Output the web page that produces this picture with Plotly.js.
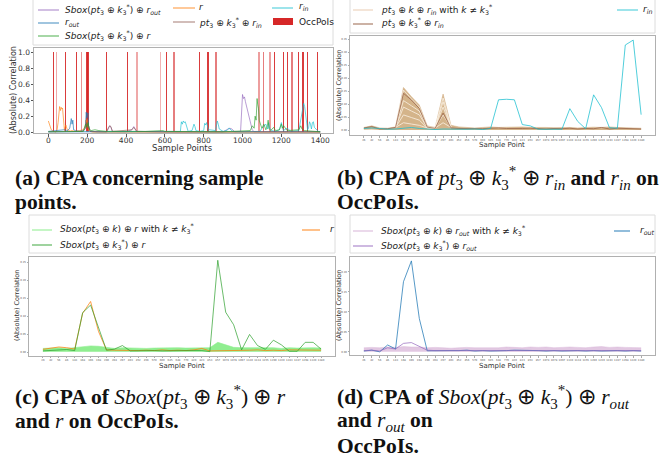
<!DOCTYPE html>
<html><head><meta charset="utf-8">
<script src="https://cdn.plot.ly/plotly-3.0.1.min.js"></script>
<style>html,body{margin:0;padding:0;background:#fff}#c{width:672px;height:465px}</style>
</head><body><div id="c"></div>
<script>
// ---------- DATA ----------
// (a) CPA over all sample points (sparse readings)
const aR_x = [0,3,6,10,15,20,25,30,35,40,45,50,55,58,60,63,66,70,73,76,80,83,86,90,95,100,105,110,120,140,160,180,190,193,196,199,202,205,208,215,230,260,1400];
const aR_y = [0.14,0.12,0.08,0.05,0.03,0.02,0.02,0.01,0.0,0.01,0.03,0.12,0.28,0.32,0.3,0.27,0.31,0.29,0.3,0.2,0.05,0.02,0.06,0.09,0.05,0.02,0.03,0.01,0.02,0.01,0.02,0.03,0.08,0.15,0.12,0.16,0.1,0.04,0.02,0.01,0.0,0.0,0.0];
const aRout_x = [0,50,80,100,110,118,122,126,130,140,160,180,190,195,198,201,204,207,210,215,225,250,1400];
const aRout_y = [0.01,0.02,0.03,0.02,0.05,0.17,0.1,0.15,0.03,0.02,0.01,0.02,0.05,0.25,0.18,0.22,0.24,0.08,0.03,0.01,0.01,0.005,0.005];
const aSboxR_x = [0,100,180,192,198,204,210,220,240,260,300,500,590,600,900,1040,1050,1060,1065,1070,1075,1078,1082,1086,1090,1095,1100,1110,1120,1128,1132,1136,1145,1160,1170,1190,1200,1205,1212,1230,1290,1300,1306,1320,1400];
const aSboxR_y = [0.005,0.005,0.01,0.1,0.06,0.12,0.04,0.02,0.03,0.02,0.01,0.01,0.02,0.01,0.005,0.02,0.08,0.05,0.2,0.15,0.42,0.35,0.3,0.15,0.1,0.08,0.05,0.1,0.03,0.08,0.15,0.05,0.02,0.06,0.02,0.03,0.1,0.05,0.08,0.02,0.03,0.08,0.04,0.02,0.005];
const aSboxRout_x = [0,300,310,316,322,330,400,430,440,446,455,600,900,925,935,945,960,990,995,1000,1005,1010,1015,1020,1025,1030,1035,1040,1050,1060,1400];
const aSboxRout_y = [0.005,0.005,0.05,0.08,0.06,0.01,0.005,0.03,0.07,0.05,0.01,0.005,0.005,0.04,0.05,0.04,0.005,0.01,0.3,0.47,0.42,0.44,0.38,0.33,0.28,0.2,0.15,0.1,0.03,0.005,0.005];
const aPtRin_x = [0,180,190,196,200,205,215,300,310,316,322,330,430,440,446,455,600,1400];
const aPtRin_y = [0.005,0.01,0.05,0.12,0.08,0.1,0.01,0.005,0.06,0.08,0.07,0.01,0.03,0.06,0.04,0.01,0.005,0.005];
const aRin_x = [0,650,680,685,690,695,700,705,710,715,720,740,750,755,760,780,800,805,810,815,820,825,830,860,865,870,875,880,900,920,930,940,950,990,1090,1100,1120,1130,1135,1140,1150,1170,1190,1200,1205,1210,1230,1250,1290,1300,1310,1315,1320,1325,1330,1335,1340,1345,1350,1355,1360,1365,1370,1380,1390,1400];
const aRin_y = [0.005,0.005,0.01,0.13,0.1,0.14,0.12,0.13,0.08,0.03,0.01,0.02,0.1,0.07,0.02,0.01,0.02,0.11,0.09,0.12,0.06,0.02,0.03,0.02,0.07,0.14,0.1,0.04,0.01,0.02,0.05,0.03,0.01,0.005,0.01,0.05,0.1,0.04,0.12,0.05,0.02,0.01,0.03,0.12,0.08,0.02,0.05,0.01,0.02,0.15,0.3,0.36,0.32,0.2,0.08,0.03,0.05,0.13,0.1,0.04,0.12,0.13,0.06,0.03,0.01,0.005];
const occPoIs = [26,43,86,144,170,198,204,298,406,456,578,607,648,777,824,862,1084,1109,1140,1164,1209,1230,1256,1290,1311,1333,1388];
const occHeight = [1,1,1,1,1,1,1,1,1,1,1,1,1,1,1,1,1,1,1,1,1,1,1,1,1,1,1];

// OccPoI categories used in (b)-(d)
const poiLabels = ['26','42','56','86','143','168','196','198','200','204','297','403','452','456','570','600','645','648','770','820','823','853','857','1074','1078','1097','1130','1134','1155','1200','1220','1243','1247','1298','1320','1380'];

// (b)
const bWrongLow  = [0.003,0.004,0.002,0.002,0.003,0.004,0.004,0.004,0.003,0.003,0.004,0.003,0.002,0.002,0.002,0.002,0.003,0.003,0.002,0.002,0.003,0.002,0.002,0.002,0.002,0.002,0.003,0.002,0.002,0.002,0.003,0.002,0.002,0.002,0.002,0.002];
const bWrongHigh = [0.012,0.018,0.01,0.009,0.014,0.165,0.13,0.098,0.018,0.012,0.14,0.02,0.014,0.012,0.01,0.012,0.014,0.012,0.013,0.012,0.014,0.012,0.013,0.012,0.011,0.012,0.012,0.01,0.012,0.013,0.012,0.014,0.012,0.012,0.01,0.009];
const bStripeLabels = ['143','168','196','198','200','204','297','403'];
const bStripe1 = [0.012,0.03,0.025,0.02,0.01,0.01,0.03,0.012];
const bStripe2 = [0.012,0.06,0.05,0.04,0.01,0.01,0.06,0.012];
const bStripe3 = [0.012,0.09,0.075,0.06,0.012,0.012,0.09,0.012];
const bStripe4 = [0.012,0.115,0.095,0.075,0.012,0.012,0.11,0.012];
const bStripe5 = [0.012,0.155,0.122,0.09,0.014,0.012,0.125,0.014];
const bPtRin = [0.01,0.015,0.006,0.007,0.012,0.143,0.117,0.085,0.013,0.009,0.067,0.01,0.008,0.007,0.006,0.007,0.009,0.01,0.008,0.007,0.008,0.009,0.007,0.006,0.008,0.007,0.009,0.006,0.008,0.007,0.012,0.006,0.009,0.008,0.007,0.006];
const bRin = [0.008,0.01,0.008,0.005,0.006,0.01,0.012,0.008,0.005,0.004,0.006,0.005,0.004,0.005,0.006,0.004,0.008,0.118,0.12,0.118,0.023,0.018,0.005,0.005,0.007,0.005,0.084,0.035,0.007,0.137,0.088,0.011,0.009,0.328,0.347,0.061];

// (c)
const cWrongLow  = [0.001,0.001,0.001,0.001,0.001,0.001,0.001,0.001,0.001,0.001,0.001,0.001,0.001,0.001,0.001,0.001,0.001,0.001,0.001,0.001,0.001,0.001,0.001,0.001,0.001,0.001,0.001,0.001,0.001,0.001,0.001,0.001,0.001,0.001,0.001,0.001];
const cWrongHigh = [0.01,0.012,0.012,0.01,0.012,0.015,0.017,0.016,0.012,0.01,0.012,0.011,0.012,0.01,0.011,0.012,0.011,0.012,0.011,0.012,0.012,0.012,0.027,0.02,0.013,0.012,0.012,0.013,0.011,0.012,0.01,0.012,0.011,0.012,0.012,0.011];
const cR = [0.0075,0.01,0.014,0.012,0.008,0.108,0.141,0.057,0.006,0.005,0.004,0.005,0.004,0.005,0.004,0.006,0.004,0.005,0.004,0.006,0.01,0.003,0.003,0.004,0.005,0.004,0.005,0.006,0.004,0.005,0.004,0.006,0.006,0.005,0.005,0.005];
const cSboxR = [0.003,0.004,0.007,0.007,0.004,0.11,0.131,0.066,0.005,0.008,0.018,0.003,0.004,0.005,0.004,0.003,0.004,0.005,0.004,0.004,0.004,0.001,0.256,0.111,0.076,0.006,0.049,0.018,0.0075,0.033,0.02,0.002,0.002,0.027,0.027,0.008];

// (d)
const dWrongLow  = [0,0,0,0,0,0,0,0,0,0,0,0,0,0,0,0,0,0,0,0,0,0,0,0,0,0,0,0,0,0,0,0,0,0,0,0];
const dWrongHigh = [0.01,0.011,0.01,0.012,0.011,0.013,0.012,0.012,0.01,0.011,0.01,0.009,0.01,0.011,0.01,0.01,0.011,0.01,0.012,0.011,0.01,0.012,0.011,0.012,0.01,0.011,0.012,0.011,0.01,0.012,0.013,0.011,0.012,0.011,0.01,0.01];
const dRout = [0.002,0.004,0.0,0.017,0.007,0.175,0.227,0.083,0.0025,0.003,0.004,0.003,0.003,0.004,0.002,0.003,0.002,0.002,0.003,0.004,0.004,0.003,0.003,0.002,0.003,0.002,0.003,0.003,0.002,0.003,0.002,0.003,0.003,0.002,0.003,0.002];
const dSboxRout = [0.003,0.004,0.002,0.01,0.007,0.021,0.023,0.0125,0.004,0.003,0.003,0.004,0.003,0.003,0.004,0.003,0.003,0.004,0.003,0.004,0.003,0.004,0.003,0.003,0.004,0.003,0.004,0.003,0.003,0.004,0.003,0.004,0.003,0.004,0.003,0.003];

// ---------- STYLE ----------
const W = 672, H = 465;
const px = x => x / W, py = y => 1 - y / H;
const occAlpha = [0.9,0.4,0.9,0.9,0.5,0.9,0.9,0.9,0.9,0.4,0.35,0.9,0.6,0.9,0.9,0.6,0.45,0.6,0.45,0.9,0.9,0.9,0.6,0.9,0.9,0.9,0.9];
const occWidth = [5,5,5,5,5,8,8,5,5,10,5,5,10,5,9,10,10,5,10,5,5,5,12,5,10,5,5];
const C = {blue:'rgba(31,119,180,0.65)', orange:'rgba(255,127,14,0.65)', green:'rgba(44,160,44,0.65)',
  purple:'rgba(148,103,189,0.65)', brown:'rgba(140,86,75,0.6)', cyan:'rgba(23,190,207,0.65)', red:'#d62728'};
const FONT = 'DejaVu Sans';
const SERIF = 'Liberation Serif';

function ln(x, y, xa, ya, color, w) {
  return {type:'scatter', mode:'lines', x:x, y:y, xaxis:xa, yaxis:ya, line:{color:color, width:w||1}, hoverinfo:'skip'};
}
function band(lo, hi, xa, ya, color) {
  return [
    {type:'scatter', mode:'lines', x:poiLabels, y:lo, xaxis:xa, yaxis:ya, line:{width:0, color:color}, hoverinfo:'skip'},
    {type:'scatter', mode:'lines', x:poiLabels, y:hi, xaxis:xa, yaxis:ya, line:{width:0.6, color:color}, fill:'tonexty', fillcolor:color, hoverinfo:'skip'}
  ];
}

const traces = [];
// (a)
traces.push({type:'bar', x:occPoIs, y:occHeight, width:occWidth, xaxis:'x', yaxis:'y',
  marker:{color:C.red, opacity:occAlpha, line:{width:0}}, hoverinfo:'skip'});
traces.push(ln(aSboxRout_x, aSboxRout_y, 'x','y', C.purple));
traces.push(ln(aR_x, aR_y, 'x','y', C.orange));
traces.push(ln(aRin_x, aRin_y, 'x','y', C.cyan));
traces.push(ln(aRout_x, aRout_y, 'x','y', C.blue));
traces.push(ln(aPtRin_x, aPtRin_y, 'x','y', C.brown));
traces.push(ln(aSboxR_x, aSboxR_y, 'x','y', C.green));
// (b)
traces.push(...band(bWrongLow, bWrongHigh, 'x2','y2', 'rgba(210,176,132,0.95)'));
[bStripe1,bStripe2,bStripe3,bStripe4,bStripe5].forEach(s => traces.push(ln(bStripeLabels, s, 'x2','y2','rgba(250,240,226,0.9)',0.9)));
traces.push(ln(poiLabels, bPtRin, 'x2','y2', 'rgba(150,95,70,0.75)'));
traces.push(ln(poiLabels, bRin, 'x2','y2', 'rgba(23,190,207,0.75)'));
// (c)
traces.push(...band(cWrongLow, cWrongHigh, 'x3','y3', 'rgba(144,238,144,1)'));
traces.push(ln(poiLabels, cR, 'x3','y3', 'rgba(255,127,14,0.75)'));
traces.push(ln(poiLabels, cSboxR, 'x3','y3', 'rgba(44,160,44,0.7)'));
// (d)
traces.push(...band(dWrongLow, dWrongHigh, 'x4','y4', 'rgba(216,182,216,0.75)'));
traces.push(ln(poiLabels, dRout, 'x4','y4', 'rgba(31,119,180,0.75)'));
traces.push(ln(poiLabels, dSboxRout, 'x4','y4', 'rgba(148,103,189,0.7)'));

const frame = {showline:true, mirror:true, linecolor:'#b0b0b0', linewidth:1, showgrid:false, zeroline:false, ticks:'outside', tickcolor:'#555', fixedrange:true};
function catX(dom, anchor) {
  return Object.assign({}, frame, {domain:dom, anchor:anchor, type:'category', categoryorder:'array', categoryarray:poiLabels,
    range:[-1.75, 36.75], tickvals:poiLabels, ticktext:poiLabels, tickangle:0, ticklen:1.5, tickwidth:0.5,
    tickfont:{family:FONT, size:2.6, color:'#555'}});
}
function smallY(dom, anchor, rng, vals) {
  return Object.assign({}, frame, {domain:dom, anchor:anchor, range:rng, tickvals:vals, tickformat:'.2f', ticklen:1.5, tickwidth:0.5,
    tickfont:{family:FONT, size:2.6, color:'#555'}});
}

const layout = {
  width:W, height:H, margin:{l:0,r:0,t:0,b:0}, paper_bgcolor:'#fff', plot_bgcolor:'#fff', showlegend:false, bargap:0,
  xaxis: Object.assign({}, frame, {domain:[px(34),px(333)], anchor:'y', range:[-74,1466], tickvals:[0,200,400,600,800,1000,1200,1400],
    ticklen:2.5, ticklabelstandoff:-3, tickfont:{family:FONT, size:7.5, color:'#333'}}),
  yaxis: Object.assign({}, frame, {domain:[py(133),py(48)], anchor:'x', range:[-0.01,1.05], tickvals:[0,0.2,0.4,0.6,0.8,1.0], tickformat:'.1f',
    ticklen:2.5, ticklabelstandoff:-1, tickfont:{family:FONT, size:7.5, color:'#333'}}),
  xaxis2: catX([px(350),px(655)], 'y2'),
  yaxis2: smallY([py(135),py(36)], 'x2', [-0.017,0.3626], [0,0.05,0.1,0.15,0.2,0.25,0.3,0.35]),
  xaxis3: catX([px(29),px(335)], 'y3'),
  yaxis3: smallY([py(355.7),py(256.7)], 'x3', [-0.0103,0.266], [0,0.05,0.1,0.15,0.2,0.25]),
  xaxis4: catX([px(350),px(655)], 'y4'),
  yaxis4: smallY([py(355),py(256.7)], 'x4', [-0.008,0.2375], [0,0.05,0.1,0.15,0.2]),
  shapes: [], annotations: []
};

const S = layout.shapes, A = layout.annotations;
function box(x0,y0,x1,y1){ S.push({type:'rect', xref:'paper', yref:'paper', x0:px(x0), x1:px(x1), y0:py(y0), y1:py(y1), line:{color:'#dcdcdc', width:1}, fillcolor:'rgba(255,255,255,0.8)', layer:'above'}); }
function sample(x0,x1,y,color,w){ S.push({type:'line', xref:'paper', yref:'paper', x0:px(x0), x1:px(x1), y0:py(y), y1:py(y), line:{color:color, width:w||1.3}}); }
function txt(x,y,t,size,opts){ A.push(Object.assign({xref:'paper', yref:'paper', x:px(x), y:py(y), text:t, showarrow:false, xanchor:'left', yanchor:'middle',
  font:{family:FONT, size:size||9, color:'#222'}}, opts||{})); }

const kst = '<i>k</i><sub>3</sub><sup>*</sup>';
// legend (a)
box(33,-5,333,45);
sample(38,59,10,C.purple); txt(63,9,'<i>Sbox</i>(<i>pt</i><sub>3</sub> ⊕ '+kst+') ⊕ <i>r<sub>out</sub></i>');
sample(38,59,23,C.blue);   txt(63,23,'<i>r<sub>out</sub></i>');
sample(38,59,36,C.green);  txt(63,36,'<i>Sbox</i>(<i>pt</i><sub>3</sub> ⊕ '+kst+') ⊕ <i>r</i>');
sample(173,195,8,C.orange); txt(197,7,'<i>r</i>');
sample(173,195,22,C.brown); txt(197,22,'<i>pt</i><sub>3</sub> ⊕ '+kst+' ⊕ <i>r<sub>in</sub></i>');
sample(272,293,8,C.cyan);   txt(297,7,'<i>r<sub>in</sub></i>');
S.push({type:'rect', xref:'paper', yref:'paper', x0:px(273), x1:px(293), y0:py(25), y1:py(18), line:{width:0}, fillcolor:C.red});
txt(297,21.5,'OccPoIs');
// legend (b)
box(350,-5,655,33);
sample(353,373,10,'rgba(235,205,180,0.8)'); txt(379,9,'<i>pt</i><sub>3</sub> ⊕ <i>k</i> ⊕ <i>r<sub>in</sub></i> with <i>k</i> ≠ '+kst);
sample(353,373,24,'rgba(150,95,70,0.75)');  txt(379,23,'<i>pt</i><sub>3</sub> ⊕ '+kst+' ⊕ <i>r<sub>in</sub></i>');
sample(617,638,10,C.cyan); txt(641,9,'<i>r<sub>in</sub></i>');
// legend (c)
box(29,215,335,253);
sample(32,52,230,'rgba(144,238,144,0.8)'); txt(58,229,'<i>Sbox</i>(<i>pt</i><sub>3</sub> ⊕ <i>k</i>) ⊕ <i>r</i> with <i>k</i> ≠ '+kst);
sample(32,52,245,'rgba(44,160,44,0.7)');   txt(58,244,'<i>Sbox</i>(<i>pt</i><sub>3</sub> ⊕ '+kst+') ⊕ <i>r</i>');
sample(302,320,230,'rgba(255,127,14,0.75)'); txt(328,229,'<i>r</i>');
// legend (d)
box(350,215,655,253);
sample(353,373,231,'rgba(216,182,216,0.8)'); txt(379,230,'<i>Sbox</i>(<i>pt</i><sub>3</sub> ⊕ <i>k</i>) ⊕ <i>r<sub>out</sub></i> with <i>k</i> ≠ '+kst);
sample(353,373,246,'rgba(148,103,189,0.7)'); txt(379,245,'<i>Sbox</i>(<i>pt</i><sub>3</sub> ⊕ '+kst+') ⊕ <i>r<sub>out</sub></i>');
sample(614,630,231,'rgba(31,119,180,0.75)'); txt(638,230,'<i>r<sub>out</sub></i>');

// axis titles
function ytitle(x,y,size){ A.push({xref:'paper', yref:'paper', x:px(x), y:py(y), text:'(Absolute) Correlation', textangle:-90, showarrow:false, xanchor:'center', yanchor:'middle', font:{family:FONT, size:size, color:'#333'}}); }
function xtitle(x,y,t,size){ A.push({xref:'paper', yref:'paper', x:px(x), y:py(y), text:t, showarrow:false, xanchor:'center', yanchor:'middle', font:{family:FONT, size:size, color:'#333'}}); }
ytitle(13,90,8); xtitle(183,148,'Sample Points',8.5);
ytitle(339,86,6.5); xtitle(502,145,'Sample Point',7);
ytitle(17,306,6.5); xtitle(182,366,'Sample Point',7);
ytitle(339,306,6.5); xtitle(502,366,'Sample Point',7);

// captions
function cap(x,y,t){ A.push({xref:'paper', yref:'paper', x:px(x), y:py(y), text:t, showarrow:false, xanchor:'left', yanchor:'middle', align:'left',
  font:{family:SERIF, size:21.5, color:'#111'}}); }
const kstC = '<i>k</i><sub>3</sub><sup>*</sup>';
cap(13,178,'<b>(a) CPA concerning sample</b>');
cap(13,202,'<b>points.</b>');
cap(335,178,'<b>(b) CPA of </b><i>pt</i><sub>3</sub> ⊕ '+kstC+' ⊕ <i>r<sub>in</sub></i><b> and </b><i>r<sub>in</sub></i><b> on</b>');
cap(335,202,'<b>OccPoIs.</b>');
cap(13,397,'<b>(c) CPA of </b><i>Sbox</i>(<i>pt</i><sub>3</sub> ⊕ '+kstC+') ⊕ <i>r</i>');
cap(13,421,'<b>and </b><i>r</i><b> on OccPoIs.</b>');
cap(335,397,'<b>(d) CPA of </b><i>Sbox</i>(<i>pt</i><sub>3</sub> ⊕ '+kstC+') ⊕ <i>r<sub>out</sub></i>');
cap(335,421,'<b>and </b><i>r<sub>out</sub></i><b> on</b>');
cap(335,446,'<b>OccPoIs.</b>');

Plotly.newPlot('c', traces, layout, {staticPlot:true, displayModeBar:false});
</script>
</body></html>
